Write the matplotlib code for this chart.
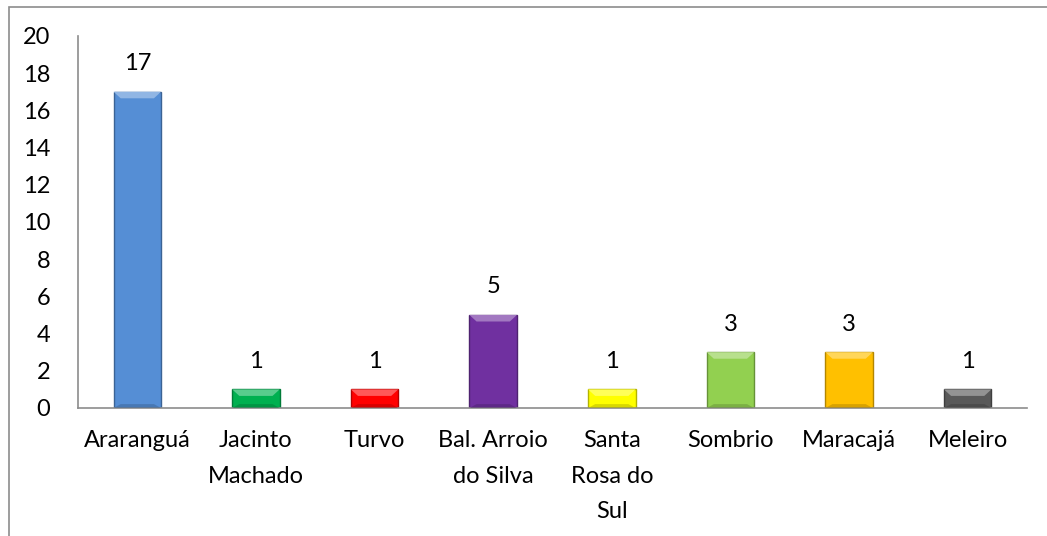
import matplotlib.pyplot as plt
from matplotlib.patches import Rectangle, Polygon
import matplotlib.colors as mcolors

cities = ["Araranguá", "Jacinto\nMachado", "Turvo", "Bal. Arroio\ndo Silva",
          "Santa\nRosa do\nSul", "Sombrio", "Maracajá", "Meleiro"]
counts = [17, 1, 1, 5, 1, 3, 3, 1]
colors = ["#558ED5", "#00B050", "#FF0000", "#7030A0",
          "#FFFF00", "#92D050", "#FFC000", "#595959"]

plt.rcParams['font.family'] = ['Lato', 'DejaVu Sans']
FS = 17

fig = plt.figure(figsize=(10.47, 5.36), dpi=100)
W, H = 1047, 536
ax = fig.add_axes([78 / W, 1 - 408 / H, (1027 - 78) / W, (408 - 36) / H])

# chart frame (only left/top edges visible in the reference)
fig.patches.append(Rectangle((9 / W, -0.1), 1.2, 1 - 6.5 / H + 0.1,
                             transform=fig.transFigure, fill=False,
                             edgecolor="#8c8c8c", linewidth=1.2))

width = 0.4
x = range(len(cities))
bars = ax.bar(x, counts, width=width, color=colors, zorder=2)

# little bevel on top of each bar
for rect, c in zip(bars, colors):
    x0 = rect.get_x()
    w = rect.get_width()
    h = rect.get_height()
    dark = [v * 0.7 for v in mcolors.to_rgb(c)]
    light = [v + (1 - v) * 0.35 for v in mcolors.to_rgb(c)]
    rect.set_edgecolor(dark)
    rect.set_linewidth(1.0)
    bev = 0.35
    inset = w * 0.15
    ax.add_patch(Polygon([(x0, h), (x0 + w, h), (x0 + w - inset, h - bev),
                          (x0 + inset, h - bev)], closed=True,
                         facecolor=light, edgecolor="none", zorder=3))
    ax.add_patch(Polygon([(x0, 0), (x0 + w, 0), (x0 + w - inset, bev * 0.6),
                          (x0 + inset, bev * 0.6)], closed=True,
                         facecolor=dark, edgecolor="none", alpha=0.5, zorder=3))
    ax.text(rect.get_x() + w / 2, h + 0.95, str(int(h)), ha="center",
            va="bottom", fontsize=FS)

ax.set_xlim(-0.5, len(cities) - 0.5)
ax.set_ylim(0, 20)
ax.set_yticks(range(0, 21, 2))
ax.set_xticks(list(x))
ax.set_xticklabels(cities, fontsize=FS, linespacing=1.85, va="top")
ax.tick_params(axis="y", labelsize=FS, length=0, pad=20)
ax.tick_params(axis="x", length=0, pad=16)

for s in ["top", "right"]:
    ax.spines[s].set_visible(False)
ax.spines["left"].set_color("#8c8c8c")
ax.spines["bottom"].set_color("#8c8c8c")
ax.spines["left"].set_linewidth(1.2)
ax.spines["bottom"].set_linewidth(1.2)

fig.savefig("out.png", dpi=100)
